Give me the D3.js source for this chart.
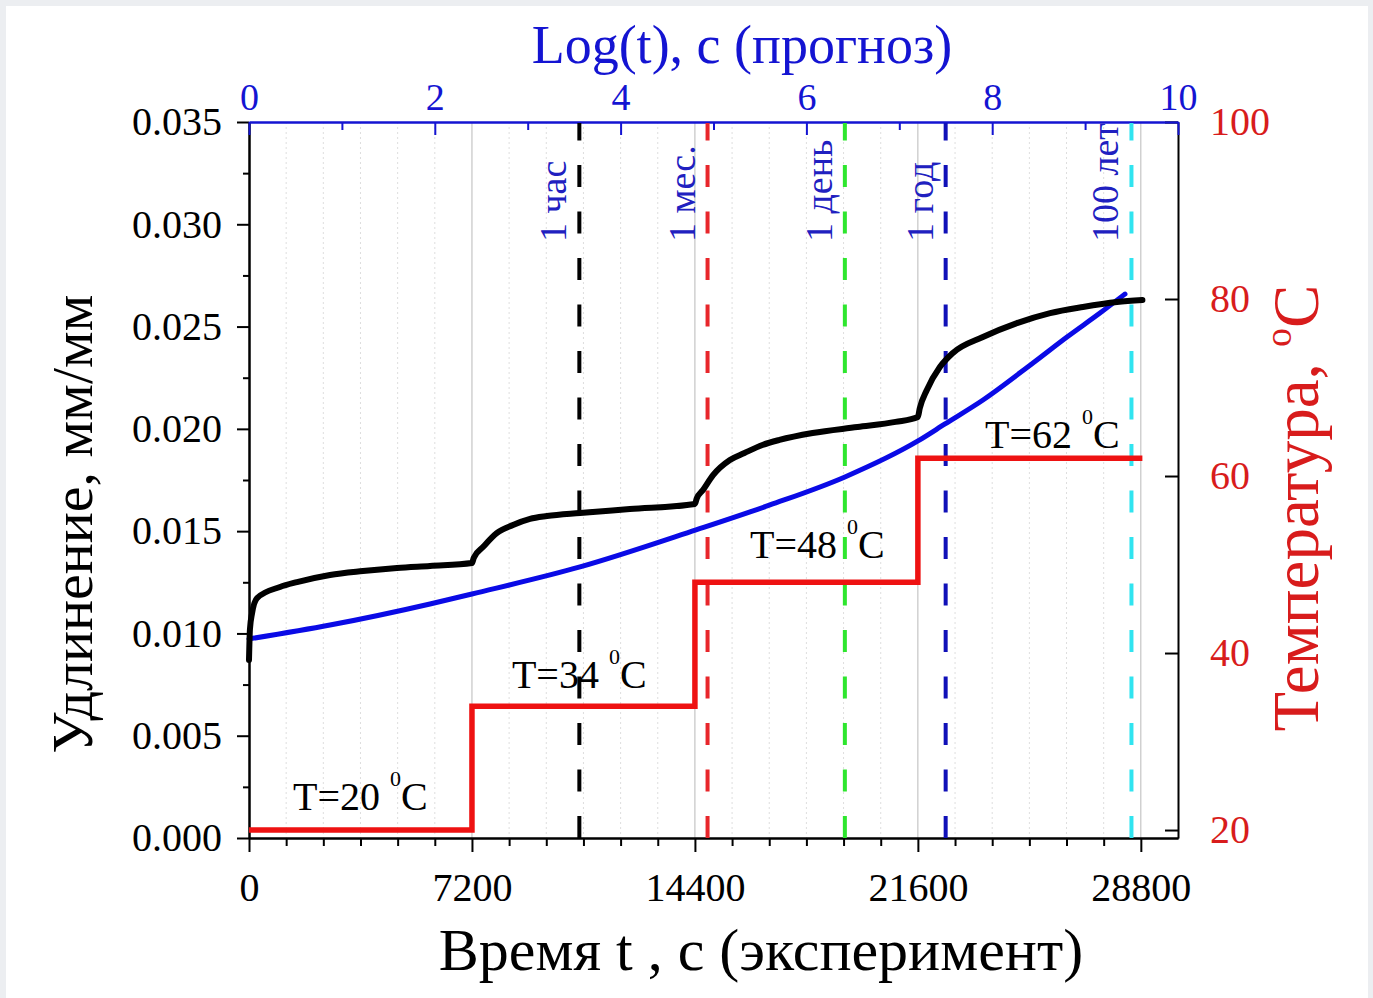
<!DOCTYPE html>
<html>
<head>
<meta charset="utf-8">
<script src="https://cdn.jsdelivr.net/npm/d3@7"></script>
<style>
  html, body { margin: 0; padding: 0; background: #eceef1; }
  svg { display: block; }
  text { font-family: "Liberation Serif", "Times New Roman", serif; }
</style>
</head>
<body>
<svg id="chart" width="1373" height="998"></svg>
<script>
// ---------------- DATA ----------------
// experiment: time (s) vs elongation (mm/mm)
const expTime   = [0, 30, 100, 260, 1000, 1550, 2615, 3680, 4780, 5845, 7200,
                   7260, 7556, 8000, 8525, 9075, 9620, 10690, 12300, 14400,
                   14460, 14660, 14985, 15530, 16000, 16580, 17130, 18200, 19650, 20880, 21600,
                   21660, 21890, 22310, 22730, 23700, 24800, 25870, 26930, 28030, 28850];
const expStrain = [0.0087, 0.0102, 0.0110, 0.01173, 0.01227, 0.01251, 0.01286, 0.01305, 0.0132, 0.0133, 0.01344,
                   0.0137, 0.01422, 0.0149, 0.0153, 0.0156, 0.01574, 0.01589, 0.01608, 0.01633,
                   0.0166, 0.01701, 0.01774, 0.01848, 0.01882, 0.01921, 0.01946, 0.0198, 0.02009, 0.02034, 0.02058,
                   0.0210, 0.0219, 0.02302, 0.02371, 0.02449, 0.02517, 0.02566, 0.02596, 0.0262, 0.0263];

// prediction: log(t) vs elongation
const predLogT   = [0, 0.872, 1.948, 2.40, 3.563, 4.812, 5.608, 6.415, 7.201, 7.492, 7.901, 8.439, 8.805, 9.160, 9.429];
const predStrain = [0.00973, 0.01041, 0.01144, 0.01193, 0.01325, 0.01506, 0.01628, 0.01765, 0.01941, 0.02024,
                    0.02141, 0.02322, 0.02449, 0.02566, 0.02659];

// temperature steps
const stepStart = [0, 7200, 14400, 21600];
const stepTemp  = [20, 34, 48, 62];
const stepEnd   = 28850;

// time markers (log t) and labels
const markerLogT   = [3.556, 4.936, 6.414, 7.499, 9.499];
const markerLabels = ["1 час", "1 мес.", "1 день", "1 год", "100 лет"];
const markerColors = ["#000000", "#e8262b", "#2ee62e", "#1010b8", "#30e4f0"];

// temperature annotations (time, temperature of label baseline)
const annTime = [1420, 8490, 16180, 23770];
const annTemp = [22.3, 36.1, 50.7, 63.2];
const annText = ["T=20 ", "T=34 ", "T=48 ", "T=62 "];

// ticks
const bottomTicks = [0, 7200, 14400, 21600, 28800];
const topTicks    = [0, 2, 4, 6, 8, 10];
const leftTicks   = [0, 0.005, 0.010, 0.015, 0.020, 0.025, 0.030, 0.035];
const rightTicks  = [20, 40, 60, 80, 100];

// ---------------- CHART ----------------
const svg = d3.select("#chart");
svg.append("rect").attr("x", 6).attr("y", 6).attr("width", 1362).attr("height", 992).attr("fill", "#ffffff");

const L = 249, R = 1178, T = 122, B = 838;
const x    = d3.scaleLinear([0, 30000], [L, R]);
const xTop = d3.scaleLinear([0, 10], [L, R]);
const y    = d3.scaleLinear([0, 0.035], [B, T]);
const yT   = d3.scaleLinear([19.1, 100], [B, T]);

// grid
const gridTimes = d3.range(1200, 30000, 1200);
svg.append("g").selectAll("line").data(gridTimes).join("line")
  .attr("x1", d => x(d)).attr("x2", d => x(d)).attr("y1", T).attr("y2", B)
  .attr("stroke", d => d % 7200 === 0 ? "#b9b9b9" : "#dedede")
  .attr("stroke-width", 1)
  .attr("stroke-dasharray", d => d % 7200 === 0 ? null : "2,3");

// axes
function styleAxis(g, color, fontSize, labelColor) {
  g.select(".domain").attr("stroke", color).attr("stroke-width", 2);
  g.selectAll(".tick line").attr("stroke", color).attr("stroke-width", 2);
  g.selectAll(".tick text").attr("fill", labelColor).style("font-size", fontSize + "px")
   .style("font-family", "'Liberation Serif', serif");
}
// minor ticks
svg.append("g").attr("transform", `translate(0,${B})`)
  .call(d3.axisBottom(x).tickValues(d3.range(0, 30000, 1200).filter(d => d % 7200 !== 0)).tickSize(8).tickFormat("").tickSizeOuter(0))
  .call(g => styleAxis(g, "#000", 40, "#000"));
svg.append("g").attr("transform", `translate(${L},0)`)
  .call(d3.axisLeft(y).tickValues(d3.range(0.0025, 0.035, 0.005)).tickSize(6).tickFormat("").tickSizeOuter(0))
  .call(g => styleAxis(g, "#000", 40, "#000"));
svg.append("g").attr("transform", `translate(0,${T})`)
  .call(d3.axisTop(xTop).tickValues([1, 3, 5, 7, 9]).tickSize(-8).tickFormat("").tickSizeOuter(0))
  .call(g => styleAxis(g, "#1414d2", 38, "#1414d2"));

// major axes
svg.append("g").attr("transform", `translate(0,${B})`)
  .call(d3.axisBottom(x).tickValues(bottomTicks).tickSize(14).tickPadding(21).tickFormat(d3.format("d")).tickSizeOuter(0))
  .call(g => styleAxis(g, "#000", 40, "#000"));
svg.append("g").attr("transform", `translate(${L},0)`)
  .call(d3.axisLeft(y).tickValues(leftTicks).tickSize(12).tickPadding(15).tickFormat(d3.format(".3f")).tickSizeOuter(0))
  .call(g => styleAxis(g, "#000", 40, "#000"));
svg.append("g").attr("transform", `translate(${R},0)`)
  .call(d3.axisRight(yT).tickValues(rightTicks).tickSize(-13).tickPadding(32).tickSizeOuter(0))
  .call(g => styleAxis(g, "#000", 40, "#d81c1c"));
svg.append("g").attr("transform", `translate(0,${T})`)
  .call(d3.axisTop(xTop).tickValues(topTicks).tickSize(-13).tickPadding(12).tickFormat(d3.format("d")).tickSizeOuter(0))
  .call(g => styleAxis(g, "#1414d2", 38, "#1414d2"));

// marker dashed lines
const markers = markerLogT.map((v, i) => ({v, label: markerLabels[i], color: markerColors[i]}));
svg.append("g").selectAll("line").data(markers).join("line")
  .attr("x1", d => xTop(d.v)).attr("x2", d => xTop(d.v)).attr("y1", B).attr("y2", T + 1)
  .attr("stroke", d => d.color).attr("stroke-width", 4)
  .attr("stroke-dasharray", "22,24.5");
svg.append("g").selectAll("text").data(markers).join("text")
  .attr("transform", d => `translate(${xTop(d.v) - 13},242) rotate(-90)`)
  .attr("fill", "#2020c0").style("font-size", "38px")
  .text(d => d.label);

// temperature steps
const tempPts = stepStart.map((s, i) => [s, stepTemp[i]]).concat([[stepEnd, stepTemp[stepTemp.length - 1]]]);
svg.append("path").datum(tempPts)
  .attr("d", d3.line().x(d => x(d[0])).y(d => yT(d[1])).curve(d3.curveStepAfter))
  .attr("fill", "none").attr("stroke", "#ee1212").attr("stroke-width", 5.5);

// prediction curve (log t, top axis)
svg.append("path").datum(predLogT.map((v, i) => [v, predStrain[i]]))
  .attr("d", d3.line().x(d => xTop(d[0])).y(d => y(d[1])).curve(d3.curveMonotoneX))
  .attr("fill", "none").attr("stroke", "#0a0ae6").attr("stroke-width", 5)
  .attr("stroke-linecap", "round");

// experimental curve
svg.append("path").datum(expTime.map((v, i) => [v, expStrain[i]]))
  .attr("d", d3.line().x(d => x(d[0])).y(d => y(d[1])).curve(d3.curveMonotoneX))
  .attr("fill", "none").attr("stroke", "#000").attr("stroke-width", 6)
  .attr("stroke-linejoin", "round").attr("stroke-linecap", "round");

// annotations
annText.forEach((t, i) => {
  const txt = svg.append("text")
    .attr("x", x(annTime[i])).attr("y", yT(annTemp[i]))
    .attr("fill", "#000").style("font-size", "40px");
  txt.append("tspan").text(t);
  txt.append("tspan").attr("dy", -24).style("font-size", "22px").text("0");
  txt.append("tspan").attr("dy", 24).text("C");
});

// titles
svg.append("text").attr("x", 742).attr("y", 63).attr("text-anchor", "middle")
  .attr("fill", "#1414d2").style("font-size", "54px").text("Log(t), c (прогноз)");
svg.append("text").attr("x", 761).attr("y", 970).attr("text-anchor", "middle")
  .attr("fill", "#000").style("font-size", "60px").text("Время t , c (эксперимент)");
svg.append("text").attr("transform", "translate(92,524) rotate(-90)").attr("text-anchor", "middle")
  .attr("fill", "#000").style("font-size", "58px").text("Удлинение, мм/мм");
const rt = svg.append("text").attr("transform", "translate(1318,508) rotate(-90)").attr("text-anchor", "middle")
  .attr("fill", "#d81c1c").style("font-size", "65px");
rt.append("tspan").text("Температура, ");
rt.append("tspan").attr("dy", -27).style("font-size", "38px").text("o");
rt.append("tspan").attr("dy", 27).text("C");
</script>
</body>
</html>
